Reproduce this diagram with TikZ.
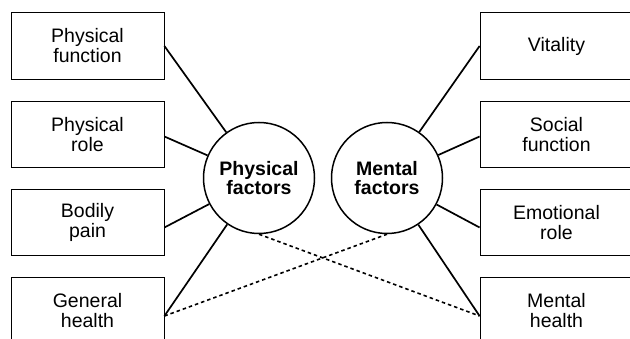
\documentclass[tikz,border=0pt]{standalone}
\usepackage{fontspec}
\setmainfont{Liberation Sans}
\begin{document}
\begin{tikzpicture}[x=1pt,y=-1pt,
    scalebox/.style={draw,line width=0.8pt,minimum width=153pt,minimum height=66.5pt,
      inner sep=0pt,align=center,font=\fontsize{19.5}{20}\selectfont},
    factor/.style={draw,circle,line width=1.5pt,minimum size=111pt,inner sep=0pt,
      align=center,font=\bfseries\fontsize{19.5}{19.5}\selectfont},
    link/.style={line width=1.7pt},
    cross/.style={line width=1.6pt,dash pattern=on 3.5pt off 3pt}]
      \useasboundingbox (0,0) rectangle (630,339);
      \draw
        (87.5,46) node[scalebox] (pf){Physical\\function}
        (87.5,134.5) node[scalebox] (pr){Physical\\role}
        (87.5,222.5) node[scalebox] (bp){Bodily\\pain}
        (87.5,311) node[scalebox] (gh){General\\health}
        (556.5,46) node[scalebox] (vt){Vitality}
        (556.5,134.5) node[scalebox] (sf){Social\\function}
        (556.5,222.5) node[scalebox] (er){Emotional\\role}
        (556.5,311) node[scalebox] (mh){Mental\\health}
        (259,178) node[factor] (phys){Physical\\factors}
        (387,178) node[factor] (ment){Mental\\factors};
      \begin{scope}[link]
        \draw (pf.east) to (phys);
        \draw ([yshift=-2pt]pr.east) to (phys);
        \draw ([yshift=-5pt]bp.east) to (phys);
        \draw ([yshift=-5pt]gh.east) to (phys);
        \draw (vt.west) to (ment);
        \draw ([yshift=-2pt]sf.west) to (ment);
        \draw ([yshift=-5pt]er.west) to (ment);
        \draw ([yshift=-5pt]mh.west) to (ment);
      \end{scope}
      \begin{scope}[cross]
        \draw ([yshift=-5pt]gh.east) to (ment.south);
        \draw (phys.south) to ([yshift=-5pt]mh.west);
      \end{scope}
    \end{tikzpicture}
\end{document}
